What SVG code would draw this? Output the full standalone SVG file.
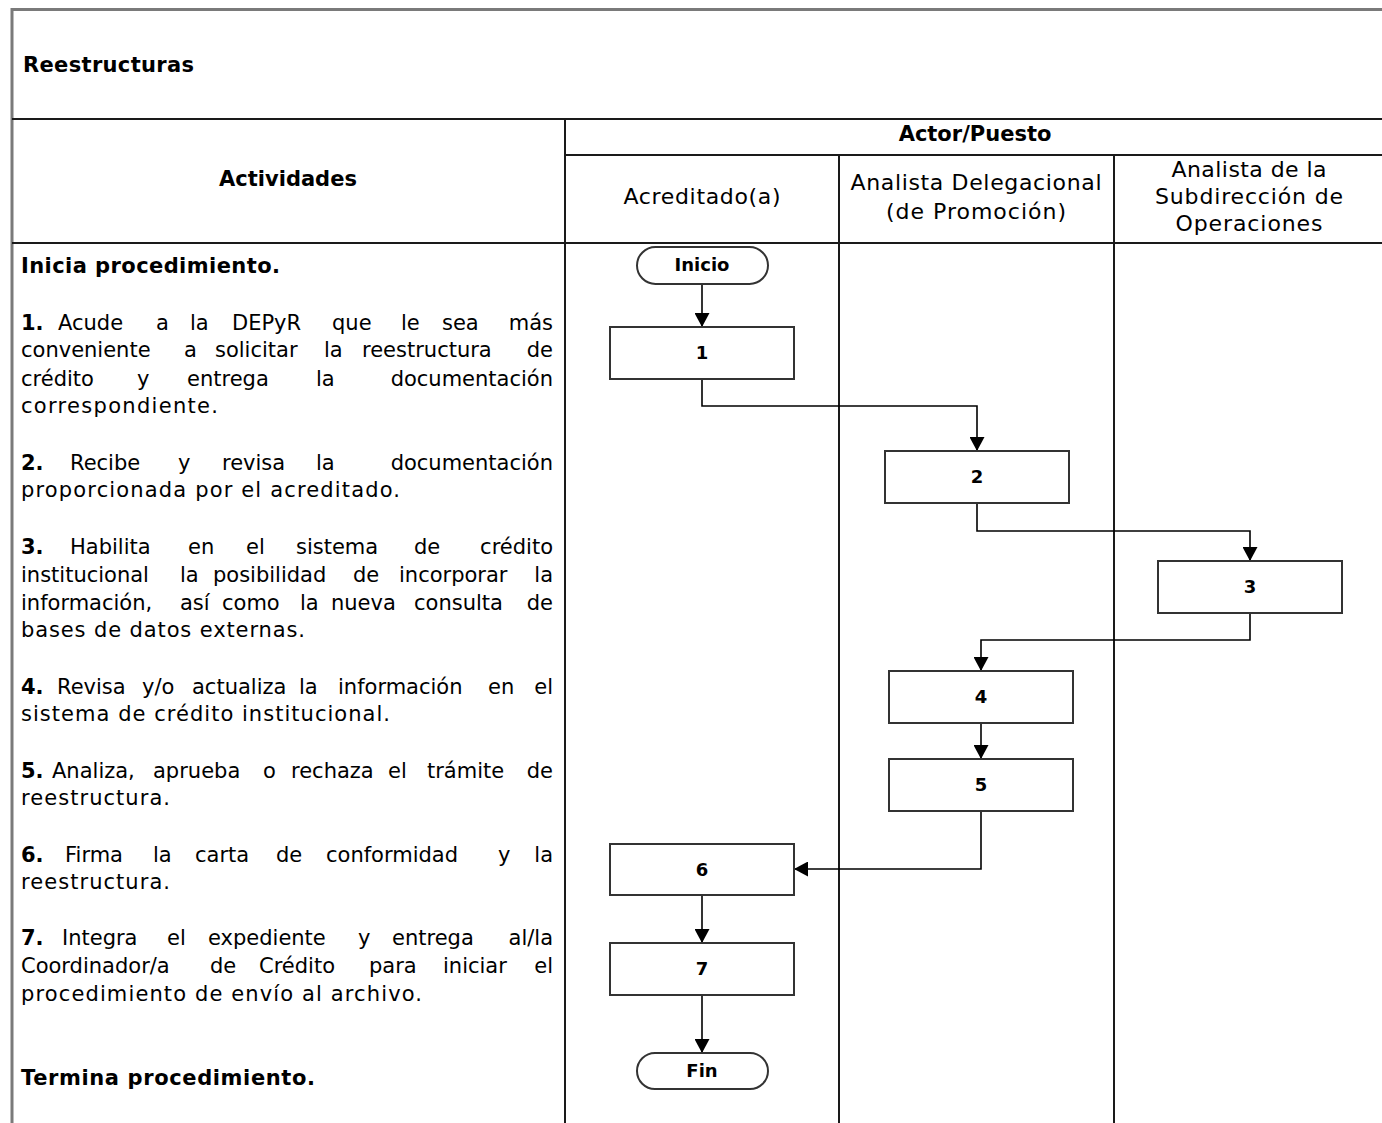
<svg xmlns="http://www.w3.org/2000/svg" width="1382" height="1123" viewBox="0 0 1382 1123">
<style>
text{font-family:"DejaVu Sans","Open Sans",sans-serif;fill:#000}
.t{font-size:21px}
.b{font-weight:bold}
.h{font-size:22px;text-anchor:middle}
.hb{font-size:21px;font-weight:bold}
.n{font-size:18px;font-weight:bold;text-anchor:middle}
.e{text-anchor:end}
.frame{stroke:#7a7a7a;stroke-width:3;fill:none}
.grid{stroke:#1a1a1a;stroke-width:2;fill:none}
.box{fill:#fff;stroke:#333;stroke-width:2}
.conn{fill:none;stroke:#000;stroke-width:1.6}
</style>
<defs>
<marker id="ah" markerUnits="userSpaceOnUse" markerWidth="15" markerHeight="15" refX="14" refY="7.5" orient="auto">
<path d="M0,0 L14,7.5 L0,15 z" fill="#000"/>
</marker>
</defs>
<rect width="1382" height="1123" fill="#fff"/>
<g id="table">
<path class="frame" d="M12,1123 V9.5 H1382"/>
<path class="grid" d="M12,119 H1382 M565,119 V1123 M565,155 H1382 M839,155 V1123 M1114,155 V1123 M12,243 H1382"/>
<text class="hb" x="23" y="72" textLength="171">Reestructuras</text>
<text class="hb" x="288" y="186" text-anchor="middle">Actividades</text>
<text class="hb" x="975" y="141" text-anchor="middle">Actor/Puesto</text>
<text class="h" x="702" y="204" textLength="157">Acreditado(a)</text>
<text class="h" x="976" y="190" textLength="251">Analista Delegacional</text>
<text class="h" x="976" y="219" textLength="180">(de Promoción)</text>
<text class="h" x="1249" y="177" textLength="155">Analista de la</text>
<text class="h" x="1249" y="204" textLength="188">Subdirección de</text>
<text class="h" x="1249" y="231" textLength="147">Operaciones</text>
</g>
<g id="activities">
<text class="t b" x="21" y="273" textLength="259">Inicia procedimiento.</text>
<text class="t" y="330"><tspan x="21" class="b">1.</tspan><tspan x="58">Acude</tspan><tspan x="156">a</tspan><tspan x="190">la</tspan><tspan x="232">DEPyR</tspan><tspan x="332">que</tspan><tspan x="401">le</tspan><tspan x="442">sea</tspan><tspan x="553" class="e">más</tspan></text>
<text class="t" y="357"><tspan x="21">conveniente</tspan><tspan x="184">a</tspan><tspan x="215">solicitar</tspan><tspan x="324">la</tspan><tspan x="362">reestructura</tspan><tspan x="553" class="e">de</tspan></text>
<text class="t" y="386"><tspan x="21">crédito</tspan><tspan x="137">y</tspan><tspan x="187">entrega</tspan><tspan x="316">la</tspan><tspan x="553" class="e">documentación</tspan></text>
<text class="t" x="21" y="413" textLength="197">correspondiente.</text>
<text class="t" y="470"><tspan x="21" class="b">2.</tspan><tspan x="70">Recibe</tspan><tspan x="178">y</tspan><tspan x="222">revisa</tspan><tspan x="316">la</tspan><tspan x="553" class="e">documentación</tspan></text>
<text class="t" x="21" y="497" textLength="379">proporcionada por el acreditado.</text>
<text class="t" y="554"><tspan x="21" class="b">3.</tspan><tspan x="70">Habilita</tspan><tspan x="188">en</tspan><tspan x="246">el</tspan><tspan x="296">sistema</tspan><tspan x="414">de</tspan><tspan x="553" class="e">crédito</tspan></text>
<text class="t" y="582"><tspan x="21">institucional</tspan><tspan x="180">la</tspan><tspan x="213">posibilidad</tspan><tspan x="353">de</tspan><tspan x="399">incorporar</tspan><tspan x="553" class="e">la</tspan></text>
<text class="t" y="610"><tspan x="21">información,</tspan><tspan x="180">así</tspan><tspan x="222">como</tspan><tspan x="300">la</tspan><tspan x="331">nueva</tspan><tspan x="414">consulta</tspan><tspan x="553" class="e">de</tspan></text>
<text class="t" x="21" y="637" textLength="284">bases de datos externas.</text>
<text class="t" y="694"><tspan x="21" class="b">4.</tspan><tspan x="57">Revisa</tspan><tspan x="142">y/o</tspan><tspan x="192">actualiza</tspan><tspan x="299">la</tspan><tspan x="338">información</tspan><tspan x="488">en</tspan><tspan x="553" class="e">el</tspan></text>
<text class="t" x="21" y="721" textLength="369">sistema de crédito institucional.</text>
<text class="t" y="778"><tspan x="21" class="b">5.</tspan><tspan x="52">Analiza,</tspan><tspan x="153">aprueba</tspan><tspan x="263">o</tspan><tspan x="291">rechaza</tspan><tspan x="388">el</tspan><tspan x="427">trámite</tspan><tspan x="553" class="e">de</tspan></text>
<text class="t" x="21" y="805" textLength="149">reestructura.</text>
<text class="t" y="862"><tspan x="21" class="b">6.</tspan><tspan x="65">Firma</tspan><tspan x="153">la</tspan><tspan x="195">carta</tspan><tspan x="276">de</tspan><tspan x="326">conformidad</tspan><tspan x="498">y</tspan><tspan x="553" class="e">la</tspan></text>
<text class="t" x="21" y="889" textLength="149">reestructura.</text>
<text class="t" y="945"><tspan x="21" class="b">7.</tspan><tspan x="62">Integra</tspan><tspan x="167">el</tspan><tspan x="208">expediente</tspan><tspan x="358">y</tspan><tspan x="392">entrega</tspan><tspan x="553" class="e">al/la</tspan></text>
<text class="t" y="973"><tspan x="21">Coordinador/a</tspan><tspan x="210">de</tspan><tspan x="259">Crédito</tspan><tspan x="369">para</tspan><tspan x="443">iniciar</tspan><tspan x="553" class="e">el</tspan></text>
<text class="t" x="21" y="1001" textLength="401">procedimiento de envío al archivo.</text>
<text class="t b" x="21" y="1085" textLength="294">Termina procedimiento.</text>
</g>
<g id="connectors">
<path class="conn" d="M702,284 V327" marker-end="url(#ah)"/>
<path class="conn" d="M702,379 V406 H977 V451" marker-end="url(#ah)"/>
<path class="conn" d="M977,503 V531 H1250 V561" marker-end="url(#ah)"/>
<path class="conn" d="M1250,613 V640 H981 V671" marker-end="url(#ah)"/>
<path class="conn" d="M981,723 V759" marker-end="url(#ah)"/>
<path class="conn" d="M981,811 V869 H794" marker-end="url(#ah)"/>
<path class="conn" d="M702,895 V943" marker-end="url(#ah)"/>
<path class="conn" d="M702,995 V1053" marker-end="url(#ah)"/>
</g>
<g id="inicio"><rect class="box" x="637" y="247" width="131" height="37" rx="18.5"/><text class="n" x="702" y="271">Inicio</text></g>
<g id="n1"><rect class="box" x="610" y="327" width="184" height="52"/><text class="n" x="702" y="359">1</text></g>
<g id="n2"><rect class="box" x="885" y="451" width="184" height="52"/><text class="n" x="977" y="483">2</text></g>
<g id="n3"><rect class="box" x="1158" y="561" width="184" height="52"/><text class="n" x="1250" y="593">3</text></g>
<g id="n4"><rect class="box" x="889" y="671" width="184" height="52"/><text class="n" x="981" y="703">4</text></g>
<g id="n5"><rect class="box" x="889" y="759" width="184" height="52"/><text class="n" x="981" y="791">5</text></g>
<g id="n6"><rect class="box" x="610" y="844" width="184" height="51"/><text class="n" x="702" y="876">6</text></g>
<g id="n7"><rect class="box" x="610" y="943" width="184" height="52"/><text class="n" x="702" y="975">7</text></g>
<g id="fin"><rect class="box" x="637" y="1053" width="131" height="36" rx="18"/><text class="n" x="702" y="1077">Fin</text></g>
</svg>
